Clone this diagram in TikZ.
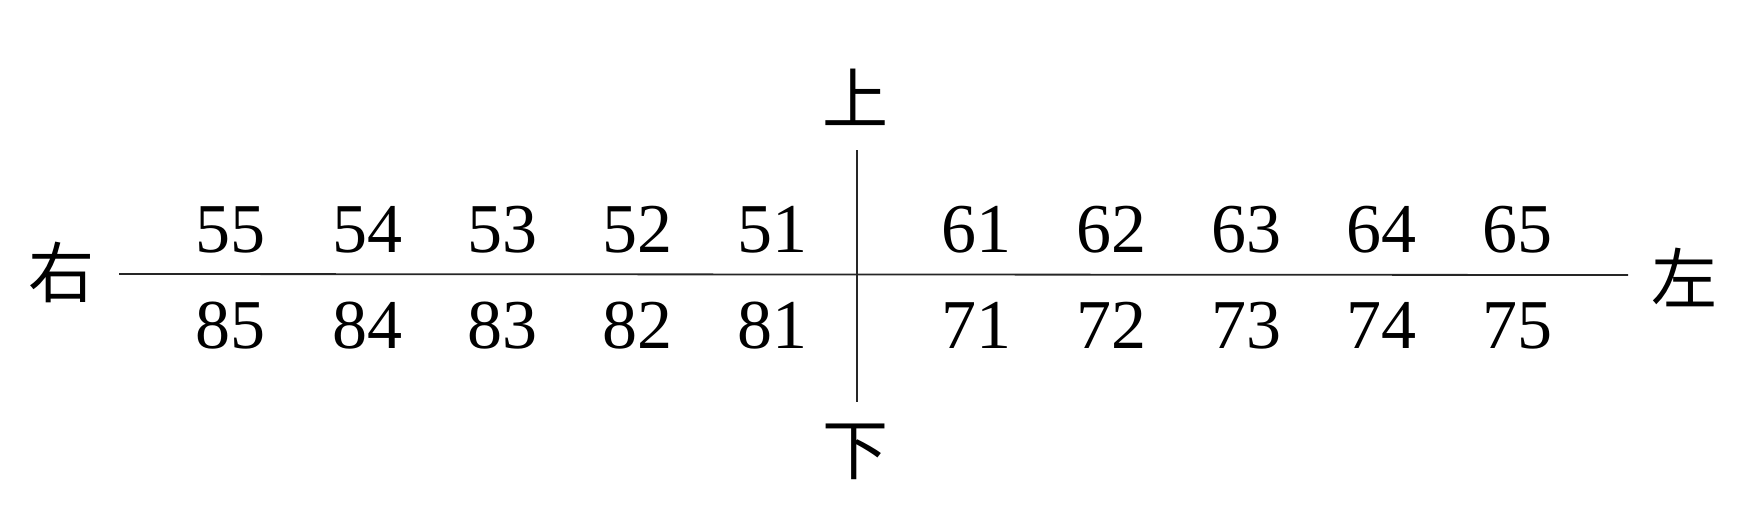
\documentclass[tikz,border=0pt]{standalone}
\usepackage{fontspec}
\setmainfont{Liberation Serif}
\newfontfamily\cjk{Noto Sans CJK SC}
\begin{document}
\begin{tikzpicture}[x=1pt,y=-1pt,
  num/.style={anchor=base,inner sep=0pt,font=\fontsize{70}{80}\selectfont},
  dir/.style={anchor=center,inner sep=0pt,font=\cjk\fontsize{66}{70}\selectfont},
  axis/.style={line width=1.8pt,draw=black!85}]
\useasboundingbox (0,0) rectangle (1759,528);
\coordinate (hl) at (119,274);
\coordinate (hr) at (1628,275);
\coordinate (vt) at (857,150);
\coordinate (vb) at (857,402);
\draw[axis] (hl) -- (hr);
\draw[axis,line width=1.4pt] (vt) -- (vb);
\node[dir] (up) at (855,97) {上};
\node[dir] (down) at (855,452) {下};
\node[dir] (right) at (61,272) {右};
\node[dir] (left) at (1684,277) {左};
\foreach \x/\t [count=\i] in {230/55,367/54,502/53,637/52,772/51,976/61,1111/62,1246/63,1381/64,1517/65}
  \node[num] (t\i) at (\x,252) {\t};
\foreach \x/\t [count=\i] in {230/85,367/84,502/83,637/82,772/81,976/71,1111/72,1246/73,1381/74,1517/75}
  \node[num] (b\i) at (\x,348) {\t};
\end{tikzpicture}
\end{document}
